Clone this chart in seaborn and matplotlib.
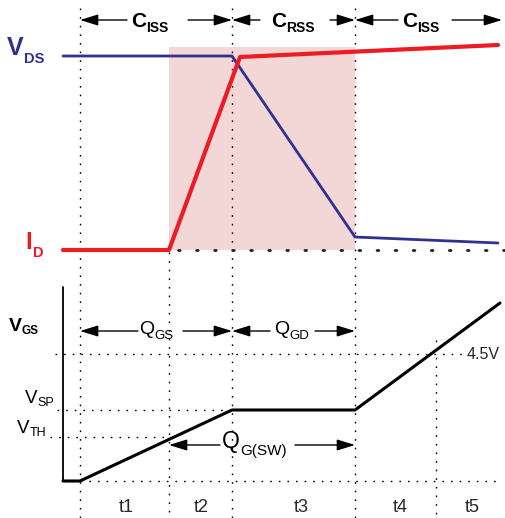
import matplotlib
matplotlib.use("Agg")
import matplotlib.pyplot as plt
import seaborn as sns

sns.set_style("white")
plt.rcParams['font.family'] = ['Liberation Sans', 'DejaVu Sans']

# waveform points (drawing units = pixels of the 506x518 canvas, y downwards)
vds_x = [63, 232, 355, 498]
vds_y = [56, 56, 237, 243]
id_x = [63, 169, 240, 498]
id_y = [250, 250, 57, 45]
vgs_x = [63, 80, 232, 355, 500]
vgs_y = [481, 481, 410, 410, 303]

# time boundaries
t_edges = [80, 169, 232, 355, 436]
t_labels = ['t1', 't2', 't3', 't4', 't5']
t_label_x = [126, 201, 301, 400, 472]

# gate voltage levels
lvl_names = ['4.5V', 'VSP', 'VTH', '0']
lvl_y = [354, 410, 437, 481]

BLUE = '#2e3192'
RED = '#ed1c24'
PINK = '#f3d7d7'
DOT = (0, (1.2, 5))

fig = plt.figure(figsize=(5.06, 5.18), dpi=100)
ax = fig.add_axes([0, 0, 1, 1])
ax.set_xlim(0, 506)
ax.set_ylim(518, 0)
ax.axis('off')
renderer = fig.canvas.get_renderer()

# shaded switching window
ax.fill_between([t_edges[1], t_edges[3]], 47, 250, color=PINK, lw=0, zorder=0)

# vertical dotted time markers
v_top = [8, 252, 8, 8, 340]
for x, top in zip(t_edges, v_top):
    ax.plot([x, x], [top, 518], color='black', lw=1, ls=DOT, zorder=1)

# horizontal dotted level lines
ax.plot([55, 466], [lvl_y[0]] * 2, color='black', lw=1, ls=DOT, zorder=1)
ax.plot([57, 232], [lvl_y[1]] * 2, color='black', lw=1, ls=DOT, zorder=1)
ax.plot([50, 167], [lvl_y[2]] * 2, color='black', lw=1, ls=DOT, zorder=1)
ax.plot([63, 500], [lvl_y[3]] * 2, color='black', lw=1, ls=DOT, zorder=1)

# thick dotted zero line of I_D
ax.plot([178, 506], [250, 250], color='#222222', lw=2, ls=(0, (0.6, 5.9)),
        dash_capstyle='round', zorder=2)

# waveforms
sns.lineplot(x=vds_x, y=vds_y, sort=False, estimator=None, color=BLUE, lw=2.0, ax=ax, zorder=3)
sns.lineplot(x=id_x, y=id_y, sort=False, estimator=None, color=RED, lw=3.0, ax=ax, zorder=4)
sns.lineplot(x=vgs_x, y=vgs_y, sort=False, estimator=None, color='black', lw=2.2, ax=ax, zorder=4)

# V_GS axis
ax.plot([63, 63], [287, 481], color='black', lw=1.3, zorder=3)


def arrow(x0, x1, y):
    ax.annotate('', xy=(x1, y), xytext=(x0, y),
                arrowprops=dict(arrowstyle='-|>,head_length=1.1,head_width=0.34',
                                color='black', lw=1, shrinkA=0, shrinkB=0))


def label(x, y, main, sub, dy, size, ssize, dx=0, color='black', weight='normal'):
    t = ax.text(x, y, main, fontsize=size, color=color, weight=weight, ha='left', va='baseline')
    bb = t.get_window_extent(renderer).transformed(ax.transData.inverted())
    ax.text(max(bb.x0, bb.x1) + dx, y + dy, sub, fontsize=ssize, color=color,
            weight=weight, ha='left', va='baseline')


# capacitance regions on top
for a, b in [(127, 80), (188, 232), (260, 232), (330, 355), (398, 355), (452, 502)]:
    arrow(a, b, 20)
label(131, 27, 'C', 'ISS', 5, 15, 10, weight='bold')
label(271, 27, 'C', 'RSS', 5, 15, 10, weight='bold')
label(402, 27, 'C', 'ISS', 5, 15, 10, weight='bold')

label(7, 55, 'V', 'DS', 8, 18, 10.5, color=BLUE, weight='bold')
label(25, 249, 'I', 'D', 8, 17, 10.5, dx=1, color=RED, weight='bold')
label(9, 331, 'V', 'GS', 3, 14, 8.5, weight='bold')

# gate charge arrows
for a, b in [(138, 80), (183, 232), (270, 232), (315, 355)]:
    arrow(a, b, 331)
label(139, 334, 'Q', 'GS', 5, 14, 9.5)
label(274, 334, 'Q', 'GD', 5, 14, 9.5)
arrow(220, 169, 445)
arrow(295, 355, 445)
label(222, 448, 'Q', 'G(SW)', 7, 16.5, 11)

label(25, 403, 'V', 'SP', 3, 13.5, 9)
label(17, 433, 'V', 'TH', 3, 13.5, 9)
ax.text(467, 359, lvl_names[0], fontsize=11.5, ha='left', va='baseline')

for x, t in zip(t_label_x, t_labels):
    ax.text(x, 512, t, fontsize=13, ha='center', va='baseline')

fig.savefig('out.png', dpi=100)
